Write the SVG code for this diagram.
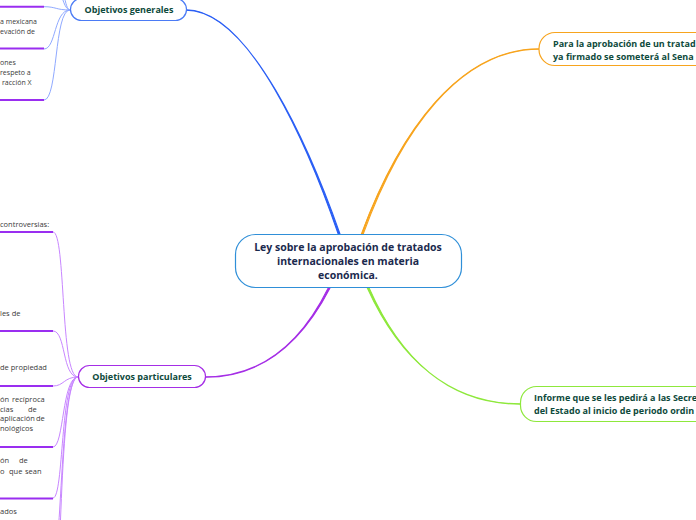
<svg xmlns="http://www.w3.org/2000/svg" width="696" height="520" viewBox="0 0 696 520">
<style>
.item{font-family:"Open Sans","Noto Sans","DejaVu Sans",sans-serif;font-size:7.5px;fill:#3a3a3a}
.gi{font-size:7px}
.lbl{font-family:"Open Sans","Noto Sans","DejaVu Sans",sans-serif;font-weight:bold;font-size:9px;fill:#0e4a3c}
.ctr{font-family:"Open Sans","Noto Sans","DejaVu Sans",sans-serif;font-weight:bold;font-size:10.5px;fill:#1b2a4e}
.ul{stroke:#9a2ef0;stroke-width:2;fill:none}
.cb{stroke:#8fa9ff;stroke-width:1;fill:none}
.cp{stroke:#c886ff;stroke-width:1;fill:none}
.main{stroke-width:1.1;stroke-linejoin:round}
</style>
<g id="connectors">
  <path class="main" d="M186,9.8 C250,9.8 309.5,150 338.2,234 L340,234 C310.5,150 250,10.2 186,10.2 Z" fill="#2b5ff5" stroke="#2b5ff5"/>
  <path class="main" d="M539,48.8 C460,48.8 400,130 361.4,234 L363.2,234 C401,130 460,49.2 539,49.2 Z" fill="#f7a41e" stroke="#f7a41e"/>
  <path class="main" d="M520,403.8 C450,403.8 400,360 367.3,288 L369.1,288 C401,360 450,404.2 520,404.2 Z" fill="#8ee83c" stroke="#8ee83c"/>
  <path class="main" d="M206,376.8 C260,376.8 300,345 328.2,288 L330,288 C300.5,345 260,377.2 206,377.2 Z" fill="#a52ee6" stroke="#a52ee6"/>
  <path class="cb" d="M44,6.7 C56,6.7 56,10 70,10"/>
  <path class="cb" d="M44,49 C56,49 54,10 70,10"/>
  <path class="cb" d="M44,100 C58,100 54,10 70,10"/>
  <path class="cb" d="M44,-40 C58,-40 60,10 70,10"/>
  <path class="cb" d="M44,-90 C60,-90 60,10 70,10"/>
  <path class="cp" d="M53,232 C66,232 60,377 78,377"/>
  <path class="cp" d="M53,331 C66,331 62,377 78,377"/>
  <path class="cp" d="M53,386 C64,386 64,377 78,377"/>
  <path class="cp" d="M53,447 C64,447 62,377 78,377"/>
  <path class="cp" d="M53,498 C64,498 60,377 78,377"/>
  <path class="cp" d="M53,560 C62,560 60,377 78,377"/>
  <path class="cp" d="M53,620 C62,620 58,377 78,377"/>
</g>
<g id="central">
  <rect x="235.5" y="234.5" width="226" height="53" rx="20" fill="#fff" stroke="#2f8fd8" stroke-width="1.2"/>
  <text class="ctr" text-anchor="middle" x="348" y="251">Ley sobre la aprobación de tratados</text>
  <text class="ctr" text-anchor="middle" x="348" y="265">internacionales en materia</text>
  <text class="ctr" text-anchor="middle" x="348" y="279">económica.</text>
</g>
<g id="objetivos-generales">
  <rect x="70.5" y="-1.5" width="116" height="22" rx="11" fill="#fff" stroke="#4b7bf5" stroke-width="1.2"/>
  <text class="lbl" text-anchor="middle" x="129" y="13">Objetivos generales</text>
</g>
<g id="objetivos-particulares">
  <rect x="78.5" y="365.5" width="127" height="22" rx="11" fill="#fff" stroke="#a52ee6" stroke-width="1.2"/>
  <text class="lbl" text-anchor="middle" x="142" y="380">Objetivos particulares</text>
</g>
<g id="aprobacion">
  <rect x="539" y="32.5" width="180" height="33" rx="16" fill="#fff" stroke="#f7a41e" stroke-width="1.2"/>
  <text class="lbl" x="553" y="47">Para la aprobación de un tratad</text>
  <text class="lbl" x="553" y="60">ya firmado se someterá al Sena</text>
</g>
<g id="informe">
  <rect x="520.5" y="386.5" width="200" height="35" rx="16" fill="#fff" stroke="#8ee83c" stroke-width="1.2"/>
  <text class="lbl" x="534" y="401">Informe que se les pedirá a las Secre</text>
  <text class="lbl" x="534" y="414">del Estado al inicio de periodo ordin</text>
</g>
<g id="gen-item-1">
  <line class="ul" x1="0" y1="6.7" x2="44" y2="6.7"/>
</g>
<g id="gen-item-2">
  <text class="item gi" x="0" y="24">a mexicana</text>
  <text class="item gi" x="0" y="34">evación de</text>
  <line class="ul" x1="0" y1="48.5" x2="44" y2="48.5"/>
</g>
<g id="gen-item-3">
  <text class="item gi" x="0" y="65">ones</text>
  <text class="item gi" x="0" y="75">respeto a</text>
  <text class="item gi" x="2" y="85">racción X</text>
  <line class="ul" x1="0" y1="100" x2="44" y2="100"/>
</g>
<g id="par-item-1">
  <text class="item" x="0" y="227">controversias:</text>
  <line class="ul" x1="0" y1="232" x2="53" y2="232"/>
</g>
<g id="par-item-2">
  <text class="item" x="0" y="316">les de</text>
  <line class="ul" x1="0" y1="331" x2="53" y2="331"/>
</g>
<g id="par-item-3">
  <text class="item" x="0" y="370">de propiedad</text>
  <line class="ul" x1="0" y1="386" x2="53" y2="386"/>
</g>
<g id="par-item-4">
  <text class="item" y="402"><tspan x="0">ón</tspan><tspan x="12">recíproca</tspan></text>
  <text class="item" y="411.5"><tspan x="0">cias</tspan><tspan x="28">de</tspan></text>
  <text class="item" y="421"><tspan x="0">aplicación</tspan><tspan x="36">de</tspan></text>
  <text class="item" x="0" y="430.5">nológicos</text>
  <line class="ul" x1="0" y1="447" x2="53" y2="447"/>
</g>
<g id="par-item-5">
  <text class="item" y="463"><tspan x="0">ón</tspan><tspan x="19">de</tspan></text>
  <text class="item" y="474"><tspan x="0">o</tspan><tspan x="9">que</tspan><tspan x="25">sean</tspan></text>
  <line class="ul" x1="0" y1="498.5" x2="53" y2="498.5"/>
</g>
<g id="par-item-6">
  <text class="item" x="0" y="514">ados</text>
</g>
</svg>
